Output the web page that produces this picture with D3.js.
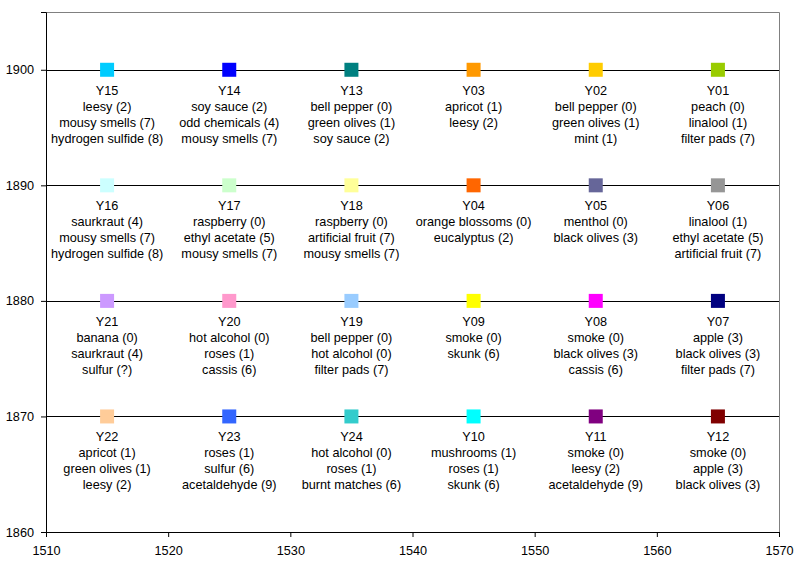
<!DOCTYPE html>
<html>
<head>
<meta charset="utf-8">
<script src="https://cdn.jsdelivr.net/npm/d3@7"></script>
<style>
  body { margin: 0; background: #fff; }
  text { font-family: Arial, "Liberation Sans", sans-serif; font-size: 12.7px; fill: #000; }
</style>
</head>
<body>
<script>
// Series names and positions
var ids = ["Y01","Y02","Y03","Y04","Y05","Y06","Y07","Y08","Y09","Y10","Y11","Y12",
           "Y13","Y14","Y15","Y16","Y17","Y18","Y19","Y20","Y21","Y22","Y23","Y24"];
var xVals = [1565,1555,1545,1545,1555,1565,1565,1555,1545,1545,1555,1565,
             1535,1525,1515,1515,1525,1535,1535,1525,1515,1515,1525,1535];
var yVals = [1900,1900,1900,1890,1890,1890,1880,1880,1880,1870,1870,1870,
             1900,1900,1900,1890,1890,1890,1880,1880,1880,1870,1870,1870];
var colors = ["#99CC00","#FFCC00","#FF9900","#FF6600","#666699","#969696","#000080","#FF00FF","#FFFF00","#00FFFF","#800080","#800000",
              "#008080","#0000FF","#00CCFF","#CCFFFF","#CCFFCC","#FFFF99","#99CCFF","#FF99CC","#CC99FF","#FFCC99","#3366FF","#33CCCC"];
var notes = [
  ["peach (0)", "linalool (1)", "filter pads (7)"],
  ["bell pepper (0)", "green olives (1)", "mint (1)"],
  ["apricot (1)", "leesy (2)"],
  ["orange blossoms (0)", "eucalyptus (2)"],
  ["menthol (0)", "black olives (3)"],
  ["linalool (1)", "ethyl acetate (5)", "artificial fruit (7)"],
  ["apple (3)", "black olives (3)", "filter pads (7)"],
  ["smoke (0)", "black olives (3)", "cassis (6)"],
  ["smoke (0)", "skunk (6)"],
  ["mushrooms (1)", "roses (1)", "skunk (6)"],
  ["smoke (0)", "leesy (2)", "acetaldehyde (9)"],
  ["smoke (0)", "apple (3)", "black olives (3)"],
  ["bell pepper (0)", "green olives (1)", "soy sauce (2)"],
  ["soy sauce (2)", "odd chemicals (4)", "mousy smells (7)"],
  ["leesy (2)", "mousy smells (7)", "hydrogen sulfide (8)"],
  ["saurkraut (4)", "mousy smells (7)", "hydrogen sulfide (8)"],
  ["raspberry (0)", "ethyl acetate (5)", "mousy smells (7)"],
  ["raspberry (0)", "artificial fruit (7)", "mousy smells (7)"],
  ["bell pepper (0)", "hot alcohol (0)", "filter pads (7)"],
  ["hot alcohol (0)", "roses (1)", "cassis (6)"],
  ["banana (0)", "saurkraut (4)", "sulfur (?)"],
  ["apricot (1)", "green olives (1)", "leesy (2)"],
  ["roses (1)", "sulfur (6)", "acetaldehyde (9)"],
  ["hot alcohol (0)", "roses (1)", "burnt matches (6)"]
];
var xTicks = [1510,1520,1530,1540,1550,1560,1570];
var yTicks = [1860,1870,1880,1890,1900];

var svgWidth = 801, svgHeight = 565;
var margin = {top: 12, right: 22, bottom: 33, left: 46};
var width = svgWidth - margin.left - margin.right;
var height = svgHeight - margin.top - margin.bottom;

var svg = d3.select("body").append("svg")
  .attr("width", svgWidth)
  .attr("height", svgHeight);

var g = svg.append("g")
  .attr("transform", "translate(" + margin.left + "," + margin.top + ")");

var x = d3.scaleLinear().domain([1510, 1570]).range([0, width]);
var y = d3.scaleLinear().domain([1860, 1905]).range([height, 0]);

// gridlines
g.selectAll(".grid")
  .data(yTicks.slice(1))
  .enter().append("line")
  .attr("x1", 0).attr("x2", width)
  .attr("y1", function(d) { return Math.round(y(d)) + 0.5; })
  .attr("y2", function(d) { return Math.round(y(d)) + 0.5; })
  .attr("stroke", "#000");

// plot frame (top and right grey)
g.append("path")
  .attr("d", "M0.5,0.5H" + (width + 0.5) + "V" + height)
  .attr("fill", "none")
  .attr("stroke", "#808080");

// axes
var xAxis = g.append("g")
  .attr("transform", "translate(0," + height + ")")
  .call(d3.axisBottom(x).tickValues(xTicks).tickSize(5).tickPadding(9).tickFormat(d3.format("d")));
var yAxis = g.append("g")
  .call(d3.axisLeft(y).tickValues(yTicks).tickSize(5).tickPadding(7).tickFormat(d3.format("d")));
[xAxis, yAxis].forEach(function(a) {
  a.selectAll("path, line").attr("stroke", "#000");
  a.selectAll("text").style("font-family", "Arial, 'Liberation Sans', sans-serif").style("font-size", "12.7px").attr("fill", "#000");
});

// markers and labels
var pts = g.selectAll(".pt")
  .data(ids.map(function(id, i) { return i; }))
  .enter().append("g")
  .attr("transform", function(i) { return "translate(" + x(xVals[i]) + "," + y(yVals[i]) + ")"; });

pts.append("rect")
  .attr("x", -7).attr("y", -7)
  .attr("width", 14).attr("height", 14)
  .attr("fill", function(i) { return colors[i]; });

pts.append("text")
  .attr("text-anchor", "middle")
  .selectAll("tspan")
  .data(function(i) { return [ids[i]].concat(notes[i]); })
  .enter().append("tspan")
  .attr("x", 0)
  .attr("y", function(d, k) { return 25 + k * 16; })
  .text(function(d) { return d; });
</script>
</body>
</html>
